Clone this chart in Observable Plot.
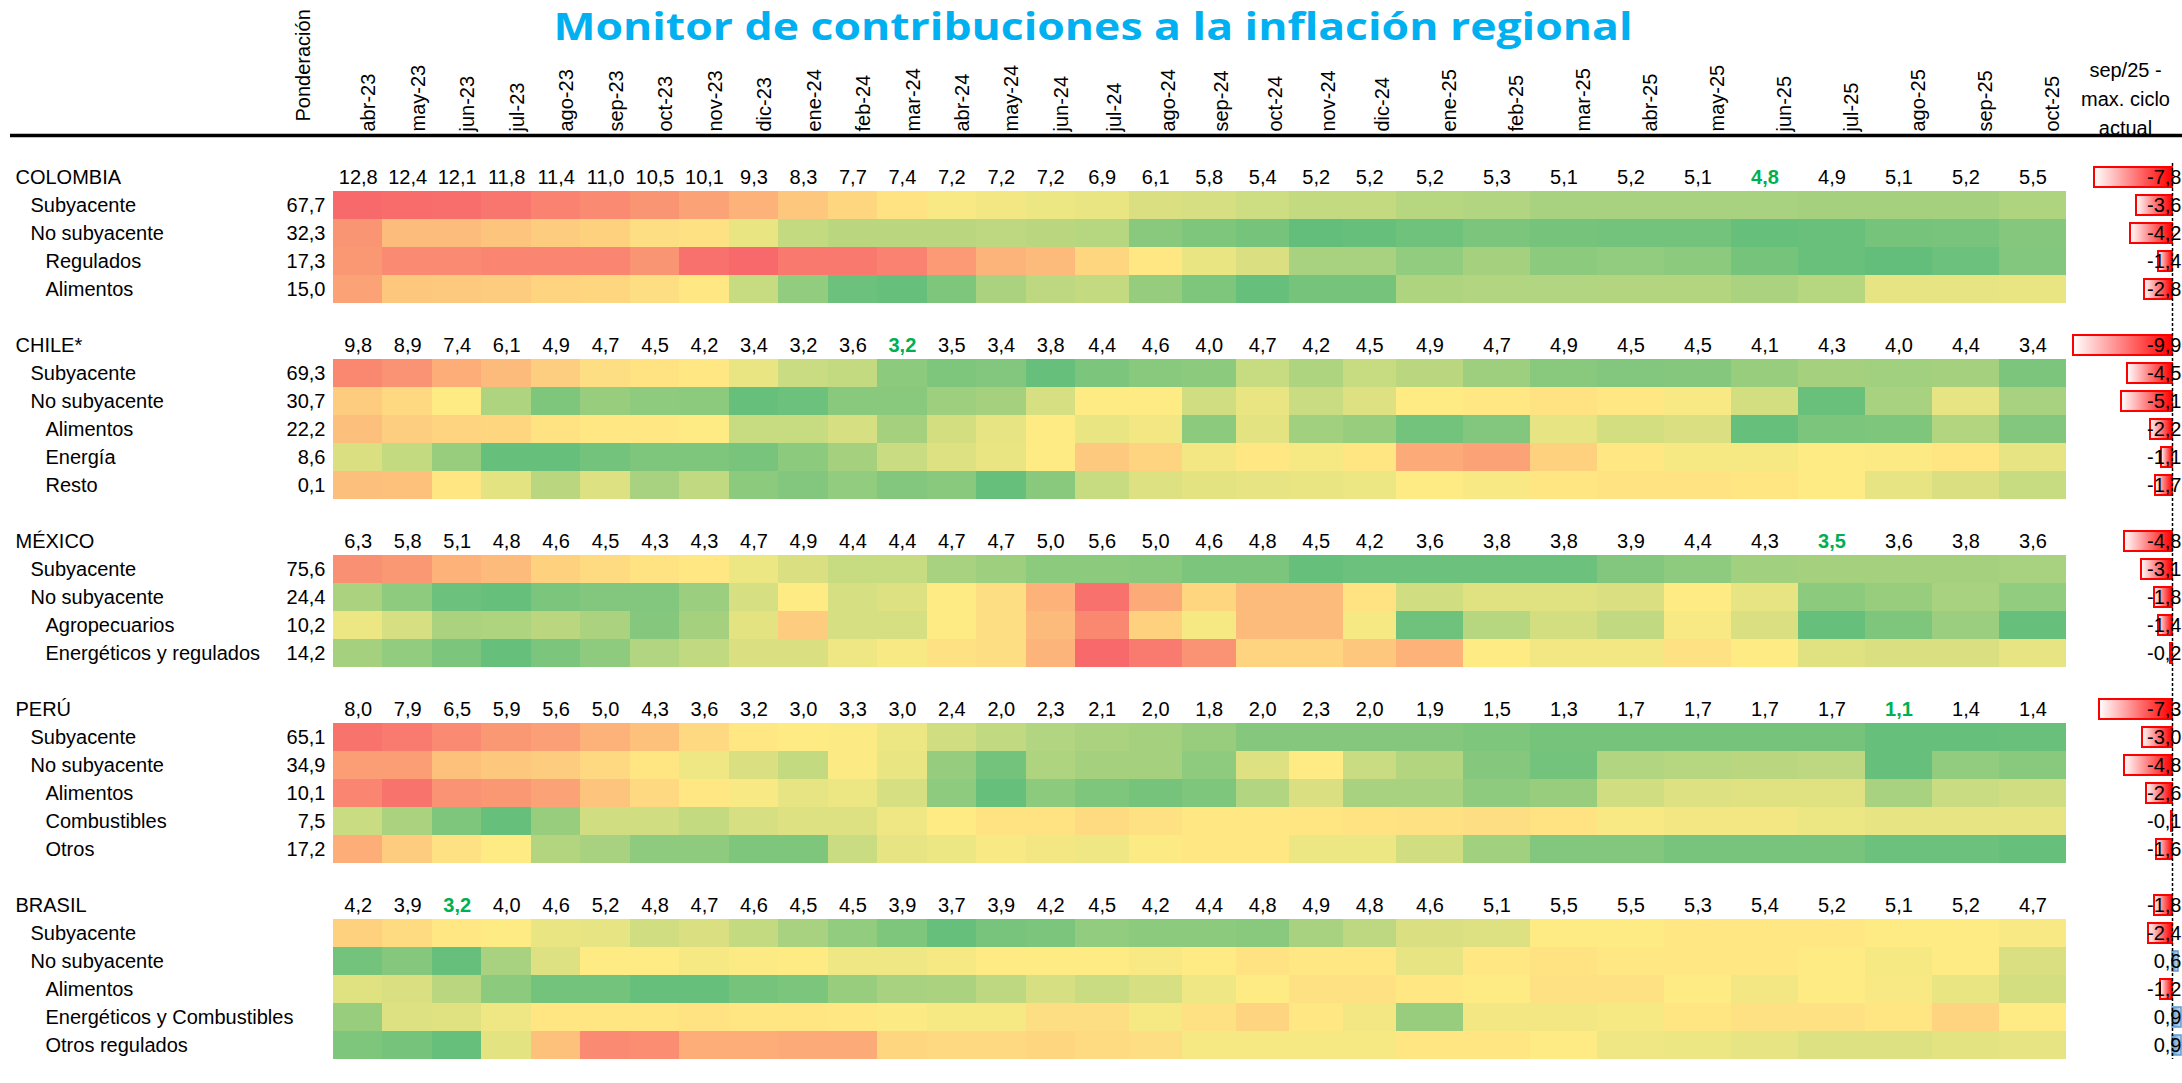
<!DOCTYPE html>
<html>
<head>
<meta charset="utf-8">
<script src="https://cdn.jsdelivr.net/npm/d3@7"></script>
<script src="https://cdn.jsdelivr.net/npm/@observablehq/plot@0.6"></script>
<style>
html, body { margin: 0; padding: 0; background: #fff; overflow: hidden; }
#wrap { position: relative; width: 2182px; height: 1083px; }
#wrap svg { position: absolute; top: 0; }
</style>
</head>
<body>
<div id="wrap"></div>
<script>
// ---------- DATA ----------
const months = ["abr-23","may-23","jun-23","jul-23","ago-23","sep-23","oct-23","nov-23","dic-23",
  "ene-24","feb-24","mar-24","abr-24","may-24","jun-24","jul-24","ago-24","sep-24","oct-24","nov-24","dic-24",
  "ene-25","feb-25","mar-25","abr-25","may-25","jun-25","jul-25","ago-25","sep-25","oct-25"];

const countries = ["COLOMBIA", "CHILE*", "MÉXICO", "PERÚ", "BRASIL"];

// headline inflation (% a/a)
const colombiaTotal = [12.8,12.4,12.1,11.8,11.4,11.0,10.5,10.1,9.3,8.3,7.7,7.4,7.2,7.2,7.2,6.9,6.1,5.8,5.4,5.2,5.2,5.2,5.3,5.1,5.2,5.1,4.8,4.9,5.1,5.2,5.5];
const chileTotal    = [9.8,8.9,7.4,6.1,4.9,4.7,4.5,4.2,3.4,3.2,3.6,3.2,3.5,3.4,3.8,4.4,4.6,4.0,4.7,4.2,4.5,4.9,4.7,4.9,4.5,4.5,4.1,4.3,4.0,4.4,3.4];
const mexicoTotal   = [6.3,5.8,5.1,4.8,4.6,4.5,4.3,4.3,4.7,4.9,4.4,4.4,4.7,4.7,5.0,5.6,5.0,4.6,4.8,4.5,4.2,3.6,3.8,3.8,3.9,4.4,4.3,3.5,3.6,3.8,3.6];
const peruTotal     = [8.0,7.9,6.5,5.9,5.6,5.0,4.3,3.6,3.2,3.0,3.3,3.0,2.4,2.0,2.3,2.1,2.0,1.8,2.0,2.3,2.0,1.9,1.5,1.3,1.7,1.7,1.7,1.7,1.1,1.4,1.4];
const brasilTotal   = [4.2,3.9,3.2,4.0,4.6,5.2,4.8,4.7,4.6,4.5,4.5,3.9,3.7,3.9,4.2,4.5,4.2,4.4,4.8,4.9,4.8,4.6,5.1,5.5,5.5,5.3,5.4,5.2,5.1,5.2,4.7];

// components (label, hierarchy level, weight)
const colombiaLabels = ["Subyacente","No subyacente","Regulados","Alimentos"];
const colombiaLevels = [1,1,2,2];
const colombiaWeights = [67.7,32.3,17.3,15.0];
const chileLabels = ["Subyacente","No subyacente","Alimentos","Energía","Resto"];
const chileLevels = [1,1,2,2,2];
const chileWeights = [69.3,30.7,22.2,8.6,0.1];
const mexicoLabels = ["Subyacente","No subyacente","Agropecuarios","Energéticos y regulados"];
const mexicoLevels = [1,1,2,2];
const mexicoWeights = [75.6,24.4,10.2,14.2];
const peruLabels = ["Subyacente","No subyacente","Alimentos","Combustibles","Otros"];
const peruLevels = [1,1,2,2,2];
const peruWeights = [65.1,34.9,10.1,7.5,17.2];
const brasilLabels = ["Subyacente","No subyacente","Alimentos","Energéticos y Combustibles","Otros regulados"];
const brasilLevels = [1,1,2,2,2];
const brasilWeights = null;

// heat intensity of each contribution (0 = low / green, 50 = mid / yellow, 100 = high / red)
const colombiaHeat = [
  [100,99,98,95,90,87,83,78,72,64,58,53,48,46,44,43,38,37,34,31,31,27,25,22,22,22,22,21,21,21,24],
  [83,68,68,65,62,60,55,54,43,31,28,28,28,29,28,27,12,9,6,0,1,4,8,6,5,5,1,2,6,7,11],
  [82,87,87,89,89,89,83,97,100,94,94,90,81,71,69,58,51,43,38,22,22,15,21,13,15,13,6,2,0,3,10],
  [78,64,63,62,59,58,55,51,32,15,3,1,9,23,29,31,16,9,1,6,6,24,25,25,26,26,23,27,42,42,43]
];
const chileHeat = [
  [88,84,74,69,61,55,53,51,43,33,31,13,9,10,1,8,12,13,32,24,32,28,19,12,10,11,17,21,20,21,8],
  [62,57,50,24,9,17,14,13,1,3,12,12,19,21,37,50,50,35,43,33,39,50,51,53,51,48,36,2,22,42,22],
  [67,61,59,58,53,51,51,50,32,32,37,21,36,42,50,43,46,13,41,20,17,5,10,42,36,38,1,8,9,26,10],
  [38,31,17,1,1,5,9,9,7,13,21,33,39,43,50,63,59,46,51,47,52,75,78,60,51,47,47,50,49,52,42],
  [67,66,52,41,28,39,22,30,13,10,15,10,12,1,12,32,39,41,42,43,44,50,48,52,53,53,52,50,42,38,32]
];
const mexicoHeat = [
  [85,82,72,69,60,56,53,51,44,38,32,32,22,19,13,13,12,8,8,1,3,3,3,3,10,14,20,21,21,21,22],
  [23,14,3,1,8,10,10,18,37,50,37,39,50,55,72,97,75,58,69,69,53,35,40,40,38,50,42,13,17,22,15],
  [44,37,23,24,28,23,11,21,41,62,37,37,50,55,69,88,60,47,69,69,47,4,27,36,30,48,38,1,9,18,1],
  [21,15,8,1,8,14,25,30,38,38,45,48,54,55,71,100,93,84,59,59,64,72,50,46,46,54,50,40,38,38,42]
];
const peruHeat = [
  [96,93,87,82,79,72,66,57,51,50,49,44,35,30,25,23,21,17,11,11,11,11,9,6,6,6,6,6,1,1,2],
  [80,80,66,64,62,57,52,45,38,31,49,43,16,5,24,21,21,14,39,50,33,26,11,5,25,27,28,29,1,15,12],
  [89,96,84,82,78,65,57,51,48,42,44,37,14,1,13,9,6,9,25,38,22,22,14,17,35,39,40,40,22,33,35],
  [33,23,9,1,17,35,35,31,37,39,39,45,50,53,53,56,54,51,51,52,53,54,55,53,48,46,46,44,42,42,42],
  [74,62,54,50,26,22,14,14,9,9,33,42,44,48,46,45,49,51,51,44,44,35,20,10,10,7,7,7,3,3,1]
];
const brasilHeat = [
  [60,56,51,50,43,42,35,38,31,22,15,9,1,7,8,15,13,13,12,22,29,38,39,50,50,51,51,51,50,50,48],
  [5,11,1,22,39,50,50,47,49,50,45,45,47,50,50,50,48,50,53,51,51,42,51,53,51,51,51,50,47,50,38],
  [40,38,28,13,5,5,1,1,6,8,17,22,23,29,37,33,37,45,50,54,54,51,50,54,54,50,46,50,48,43,36],
  [17,39,40,45,52,52,52,53,52,52,51,49,47,47,55,55,47,54,59,51,46,17,46,46,47,52,54,54,52,59,50],
  [9,6,1,41,66,87,86,74,74,75,75,58,57,57,58,56,55,47,47,47,47,52,52,50,45,44,42,39,39,41,42]
];

// sep/25 - max. ciclo actual (total first, then components)
const colombiaGap = [-7.8,-3.6,-4.2,-1.4,-2.8];
const chileGap    = [-9.9,-4.5,-5.1,-2.2,-1.1,-1.7];
const mexicoGap   = [-4.8,-3.1,-1.8,-1.4,-0.2];
const peruGap     = [-7.3,-3.0,-4.8,-2.6,-0.1,-1.6];
const brasilGap   = [-1.8,-2.4,0.6,-1.2,0.9,0.9];

// ---------- BUILD TABLES ----------
const groups = [
  {name: countries[0], total: colombiaTotal, labels: colombiaLabels, levels: colombiaLevels, weights: colombiaWeights, heat: colombiaHeat, gap: colombiaGap},
  {name: countries[1], total: chileTotal, labels: chileLabels, levels: chileLevels, weights: chileWeights, heat: chileHeat, gap: chileGap},
  {name: countries[2], total: mexicoTotal, labels: mexicoLabels, levels: mexicoLevels, weights: mexicoWeights, heat: mexicoHeat, gap: mexicoGap},
  {name: countries[3], total: peruTotal, labels: peruLabels, levels: peruLevels, weights: peruWeights, heat: peruHeat, gap: peruGap},
  {name: countries[4], total: brasilTotal, labels: brasilLabels, levels: brasilLevels, weights: brasilWeights, heat: brasilHeat, gap: brasilGap}
];

let slot = 0;
const headers = [], rows = [], cells = [], totals = [], bars = [];
groups.forEach((g, gi) => {
  if (gi > 0) slot++;               // blank separator row
  const h = slot++;
  headers.push({name: g.name, slot: h});
  const minV = d3.min(g.total);
  const minIdx = g.total.lastIndexOf(minV);
  g.total.forEach((v, j) => totals.push({col: j, slot: h, v, hl: j === minIdx}));
  bars.push({slot: h, v: g.gap[0]});
  g.labels.forEach((lab, k) => {
    const s = slot++;
    rows.push({label: lab, level: g.levels[k], weight: g.weights ? g.weights[k] : null, slot: s});
    g.heat[k].forEach((sc, j) => cells.push({col: j, slot: s, score: sc}));
    bars.push({slot: s, v: g.gap[k + 1]});
  });
});
const nSlots = slot;
const fmt = v => v.toFixed(1).replace(".", ",");

const FONT = "'Liberation Sans', Arial, Helvetica, sans-serif";
const yScale = {type: "linear", domain: [0, nSlots], range: [163, 163 + nSlots * 28], axis: null};

// ---------- MAIN PLOT ----------
const main = Plot.plot({
  width: 2182, height: 1083,
  marginTop: 0, marginBottom: 0, marginLeft: 10, marginRight: 0,
  style: {fontFamily: FONT, fontSize: "20px", background: "transparent", color: "#000"},
  x: {type: "linear", domain: [0, 15, 21, 31], range: [333, 1075, 1396, 2066], axis: null},
  y: yScale,
  color: {type: "linear", domain: [0, 50, 100], range: ["#63BE7B", "#FFEB84", "#F8696B"], interpolate: "rgb"},
  marks: [
    Plot.rect(cells, {x1: "col", x2: d => d.col + 1, y1: "slot", y2: d => d.slot + 1, fill: "score", shapeRendering: "crispEdges"}),
    Plot.ruleY([-1], {stroke: "#000", strokeWidth: 3.5}),
    Plot.text(months, {x: (d, i) => i + 1, frameAnchor: "top", dx: -14, dy: 131, rotate: -90,
      textAnchor: "start", lineAnchor: "middle", text: d => d, fill: "#000"}),
    Plot.text(["Ponderación"], {frameAnchor: "top-left", dx: 293, dy: 121, rotate: -90,
      textAnchor: "start", lineAnchor: "middle", text: d => d, fill: "#000"}),
    Plot.text(headers, {y: d => d.slot + 0.5, frameAnchor: "left", dx: 5, textAnchor: "start", text: "name", fill: "#000"}),
    Plot.text(rows.filter(r => r.level === 1), {y: d => d.slot + 0.5, frameAnchor: "left", dx: 20, textAnchor: "start", text: "label", fill: "#000"}),
    Plot.text(rows.filter(r => r.level === 2), {y: d => d.slot + 0.5, frameAnchor: "left", dx: 35, textAnchor: "start", text: "label", fill: "#000"}),
    Plot.text(rows.filter(r => r.weight != null), {y: d => d.slot + 0.5, frameAnchor: "left", dx: 315, textAnchor: "end", text: d => fmt(d.weight), fill: "#000"}),
    Plot.text(totals.filter(d => !d.hl), {x: d => d.col + 0.5, y: d => d.slot + 0.5, text: d => fmt(d.v), fill: "#000"}),
    Plot.text(totals.filter(d => d.hl), {x: d => d.col + 0.5, y: d => d.slot + 0.5, text: d => fmt(d.v), fill: "#00B050", fontWeight: "bold"})
  ]
});

// title
d3.select(main).append("text")
  .attr("x", 1093).attr("y", 40).attr("text-anchor", "middle")
  .attr("font-family", "'Open Sans', sans-serif").attr("font-weight", 700).attr("font-size", 37)
  .attr("fill", "#00B0F0")
  .attr("textLength", 1079).attr("lengthAdjust", "spacingAndGlyphs")
  .text("Monitor de contribuciones a la inflación regional");

// ---------- DATA BARS (sep/25 - max. ciclo actual) ----------
const defs = d3.create("svg:defs");
const gNeg = defs.append("linearGradient").attr("id", "gradNeg").attr("x1", 0).attr("x2", 1).attr("y1", 0).attr("y2", 0);
gNeg.append("stop").attr("offset", "0%").attr("stop-color", "#FFFFFF");
gNeg.append("stop").attr("offset", "100%").attr("stop-color", "#FF0000");
const gPos = defs.append("linearGradient").attr("id", "gradPos").attr("x1", 0).attr("x2", 1).attr("y1", 0).attr("y2", 0);
gPos.append("stop").attr("offset", "0%").attr("stop-color", "#5B9BD5");
gPos.append("stop").attr("offset", "100%").attr("stop-color", "#C9DCF0");

const barPlot = Plot.plot({
  width: 120, height: 1083, margin: 0,
  style: {fontFamily: FONT, fontSize: "20px", background: "transparent", color: "#000", overflow: "visible"},
  x: {type: "linear", domain: [-11, 1], range: [0, 120], axis: null},
  y: yScale,
  marks: [
    () => defs.node(),
    Plot.rect(bars.filter(d => d.v < 0), {x1: "v", x2: 0, y1: "slot", y2: d => d.slot + 1, insetTop: 4, insetBottom: 4,
      fill: "url(#gradNeg)", stroke: "#FF0000", strokeWidth: 2}),
    Plot.rect(bars.filter(d => d.v > 0), {x1: 0, x2: "v", y1: "slot", y2: d => d.slot + 1, insetTop: 4, insetBottom: 4,
      fill: "url(#gradPos)", stroke: "#5B9BD5", strokeWidth: 1.5}),
    Plot.ruleX([0], {y1: 0, y2: nSlots, stroke: "#000", strokeWidth: 1.5, strokeDasharray: "3,2"}),
    Plot.text(bars, {x: 0, dx: 9, y: d => d.slot + 0.5, text: d => fmt(d.v), textAnchor: "end", fill: "#000"}),
    Plot.text(["sep/25 -\nmax. ciclo\nactual"], {frameAnchor: "top-left", dx: 63, dy: 96, textAnchor: "middle",
      lineAnchor: "middle", lineHeight: 1.45, text: d => d, fill: "#000"})
  ]
});

const wrap = document.getElementById("wrap");
main.style.left = "0px";
barPlot.style.left = "2062px";
wrap.appendChild(main);
wrap.appendChild(barPlot);
</script>
</body>
</html>
